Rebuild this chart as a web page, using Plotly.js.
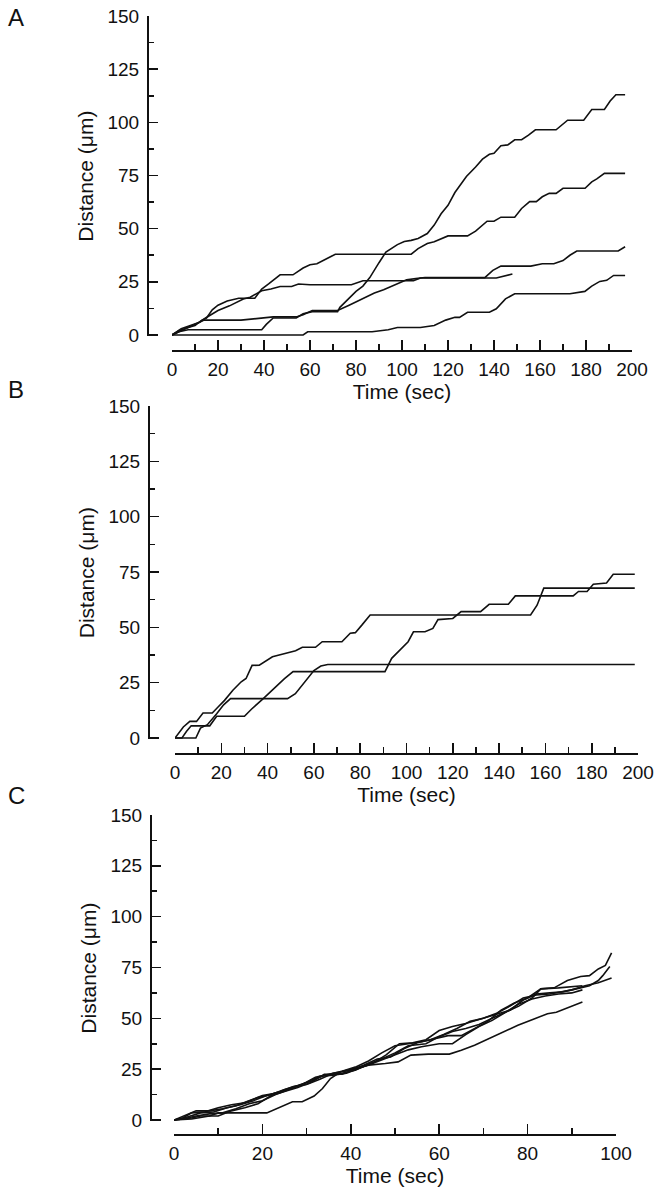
<!DOCTYPE html>
<html>
<head>
<meta charset="utf-8">
<script src="https://cdn.plot.ly/plotly-3.0.1.min.js"></script>
<style>html,body{margin:0;padding:0;background:#fff;}#chart{width:664px;height:1199px;}</style>
</head>
<body>
<div id="chart"></div>
<script>
// ---------- Panel A data (time s, distance µm) ----------
const A1_t = [0,3,7,39,41,44,54,57,61,72,73,77,80,83,86,90,93,98,101,104,107,111,114,117,120,123,128,132,135,138,140,143,146,149,152,155,158,167,172,179,182.5,188,190.5,193,197];
const A1_d = [0,1.5,2.5,2.5,5,8,8,10,11,11,13,17.5,20.5,23,27,34,39,42.5,44,44.5,45.4,47.7,51.7,57,61,67,74.5,79,82.7,85,85.5,89,89.4,91.8,91.8,94,96.5,96.5,101,101,106,106,110,113,113];
const A2_t = [0,3,7,10,13,15,17.5,20,24,29,36,39,42,47,52.6,57,60,63,67,71,104,107,111,114,120,128.5,132,137,140,143,149,152,155.5,158.4,161,164,167,170,179.6,182.5,184.7,188,197];
const A2_d = [0,2,3.5,4.5,7,8,11.8,14,16,17.3,17.3,21.6,24,28.3,28.3,31.5,33,33.5,35.7,38,38,40.6,43,43.8,46.6,46.6,48.8,53.5,53.5,55.4,55.4,59.5,62.7,62.7,65,66.6,66.6,69,69,72,73.4,76,76];
const A3_t = [0,4,8,14,30,40,44,54,57,61,72,77,83,88,92,98,102,106,110,136,139.5,143,156,161,166,170,173,176,194,197];
const A3_d = [0,2,4,7,7,8,8.5,8.5,9.5,11.5,11.5,14,17.3,19.7,21.3,24,26,26.5,27,27,30.4,32.4,32.4,33.5,33.5,35,37.5,39.5,39.5,41.5];
const A4_t = [0,4,8,12,14.6,20,25,31,34,39,43,47,52,55,60,78,83,105,108,141,148];
const A4_d = [0,3,4.5,6,8,11.5,13.7,16.9,17.8,20.8,21.6,22.8,22.8,24,23.6,23.6,25.5,25.5,26.8,26.8,28.7];
const A5_t = [0,57,59,87,94,98,108,114,119,123,125,128.5,138,141,145,149,173,179.5,182.5,186,189,192,197];
const A5_d = [0,0,1.5,1.5,2.5,3.5,3.5,4.5,7,8.3,8.3,10.7,10.7,12.3,17,19.4,19.4,20.5,23,25.2,25.7,28,28];

// ---------- Panel B data ----------
const B1_t = [0,3.6,6.4,9.3,12.1,16.1,18.6,21.4,25,28.6,30.7,33.3,36.4,42.1,45,48.6,52.1,55,60.7,63.6,72.1,75.7,77.9,80.7,84.3,153.6,156.4,159.3,198.6];
const B1_d = [0,5,7.5,7.5,11.3,11.3,14,17,21.6,25.4,26.9,32.8,32.9,36.7,37.5,38.5,39.4,41,41,43.5,43.5,47.3,47.6,51,55.6,55.6,60,67.7,67.7];
const B2_t = [0,3,5,7,15,18,30,33,38,44,47.3,51,90.7,93.6,97,100.7,103,108,111.4,113.6,120,123.6,132,135.7,144,147,172,174.3,178,180.7,186.4,189.3,198.6];
const B2_d = [0,0,3,5.5,5.5,9.8,9.8,13,17.7,23.8,26.8,30,30,36,39.7,43.5,48,48,49.5,53.5,54,57.1,57.1,60.4,60.4,64.2,64.2,66.2,66.2,69.5,70,74,74];
const B3_t = [0,9,11,14,18,21,24,48.6,52,56,60,63,66,198.6];
const B3_d = [0,0,4.5,6,11,15,17.8,17.8,20,25,30.5,32.5,33.2,33.2];

// ---------- Panel C data ----------
const C1_t = [0,2,4,7,10,13,16,19,22,25,28,31,34,38,41,44,47,50,53,57,60,63,66,69,72,75,78,81,83,86,89,92,94,96,97.6,99];
const C1_d = [0,1,3.5,4,6,7.5,8.5,11,12.5,15,17,19,22,23,24.5,27.5,30,33,36.5,37.5,41,43.5,45,47,50,53,56,60,64.5,65,68.6,70.6,71,74.3,76,82.2];
const C2_t = [0,3,5,8,11,14,17,20,24,27,30,33,36,39,42,45,48,51,54,57,60,63,66,70,73,76,79,82,85,88,91,94,96,97,98.6];
const C2_d = [0,2.5,4.5,4.5,5.5,7,9.5,12,13.5,16,18.5,21.5,22,23,25.5,28,32,37.5,38,39.5,44,46,47.5,50,52,54,59,62,62.5,63,64.5,66,68.6,71,75.5];
const C3_t = [0,3,6,9,12,15,18,21,24,27,30,33,36,40,43,46,49,52,55,58,61,64,67,70,73,76,79,82,85,90,93,96,99];
const C3_d = [0,1.5,3.5,4,6,7.5,9.5,12,14,16.5,17.5,20,23,24.5,27,30,31,35,38,39.5,42,45,48.5,50,52.5,56,60,61.5,62,64,66,67.5,69.8];
const C4_t = [0,4,6,10,13,16,19,22,25,28,31,34,38,41,44,47,50,53,56,60,63,66,69,72,75,78,81,84,87,90,92.4];
const C4_d = [0,1,2,2,4.5,6,8,12,14,16,18.5,22.5,22.5,25,27,29.5,32,34.5,36,37.5,37.5,42,46,49,53,57,59.5,61,62,62.5,64];
const C5_t = [0,4,8,10,21,23.4,26.8,29,31.7,33.6,35.4,37.7,44,47.8,50.7,53.6,57.5,62.3,65,68,72,75,77.8,81.6,84.5,86.5,89.4,92.4];
const C5_d = [0,0.5,2,3.5,3.5,5.7,9,9,11.8,15.5,20.4,23.7,27,27.8,28.6,31.9,32.4,32.4,34.3,36.8,40.8,44,46.6,49.8,52.3,53,55.6,58];
const C6_t = [0,2,5,8,11,14,17,20,23,26,29,32,35,38,41,44,47,50,53,56,59,62,65,68,71,74,77,80,83,87,92.4];
const C6_d = [0,0.5,2,3,3.5,5.5,8,9.5,12.5,15,17.5,21,22.5,24,26,29,33,36.5,37.5,38.5,40,41.5,41.5,45,48.5,54,57.5,60,64.5,65,66];

const yTickVals = [0,25,50,75,100,125,150];
const xTickAB = [0,20,40,60,80,100,120,140,160,180,200];
const xTickC = [0,20,40,60,80,100];
const panelLetters = ["A","B","C"];
const xTitle = "Time (sec)";
const yTitle = "Distance (\u03bcm)";

// ---------- layout geometry (pixels) ----------
const W = 664, H = 1199;
const panels = [
  {x0:172, x1:632, xmax:200, yAxisX:147, y0:335, y150:16,  xLineY:350, letterY:18},
  {x0:175, x1:638, xmax:200, yAxisX:148, y0:738, y150:406, xLineY:753, letterY:390},
  {x0:174, x1:616, xmax:100, yAxisX:150, y0:1120,y150:815, xLineY:1134,letterY:795}
];
const YMIN = -0.6;
const FONT = "Liberation Sans, Arial, Helvetica, sans-serif";
const lineStyle = {color:"#111", width:1.6};

function tr(t, d, k){ return {x:t, y:d, mode:"lines", line:lineStyle, xaxis:k===1?"x":"x"+k, yaxis:k===1?"y":"y"+k, showlegend:false, hoverinfo:"skip"}; }
const data = [
  tr(A1_t,A1_d,1), tr(A2_t,A2_d,1), tr(A3_t,A3_d,1), tr(A4_t,A4_d,1), tr(A5_t,A5_d,1),
  tr(B1_t,B1_d,2), tr(B2_t,B2_d,2), tr(B3_t,B3_d,2),
  tr(C1_t,C1_d,3), tr(C2_t,C2_d,3), tr(C3_t,C3_d,3), tr(C4_t,C4_d,3), tr(C5_t,C5_d,3), tr(C6_t,C6_d,3)
];

const layout = {width:W, height:H, margin:{l:0,r:0,t:0,b:0}, paper_bgcolor:"#fff", plot_bgcolor:"rgba(0,0,0,0)",
  font:{family:FONT, color:"#111", size:19}, showlegend:false, annotations:[]};

panels.forEach((p,i)=>{
  const k = i+1, xs = k===1?"":String(k);
  const pxPerUnit = (p.y0 - p.y150)/150;
  const yBottomPx = p.y0 - YMIN*pxPerUnit;
  layout["xaxis"+xs] = {
    domain:[p.x0/W, p.x1/W], range:[0,p.xmax], anchor:"free", position:1-p.xLineY/H,
    showline:true, linecolor:"#111", linewidth:1.6, showgrid:false, zeroline:false,
    ticks:"inside", ticklen:10, tickwidth:1.6, tickcolor:"#111",
    tickvals: p.xmax===200 ? xTickAB : xTickC,
    minor:{dtick:10, ticks:"inside", ticklen:6, tickwidth:1.6, tickcolor:"#111", showgrid:false},
    tickfont:{family:FONT, size:19, color:"#111"}, ticklabelstandoff:2,
    title:{text:xTitle, font:{family:FONT, size:21, color:"#111"}, standoff:0},
    fixedrange:true
  };
  layout["yaxis"+xs] = {
    domain:[1-yBottomPx/H, 1-p.y150/H], range:[YMIN,150], anchor:"free", position:p.yAxisX/W,
    showline:true, linecolor:"#111", linewidth:1.6, showgrid:false, zeroline:false,
    ticks:"inside", ticklen:9, tickwidth:1.6, tickcolor:"#111", tickvals:yTickVals,
    minor:{dtick:12.5, ticks:"inside", ticklen:5, tickwidth:1.6, tickcolor:"#111", showgrid:false},
    tickfont:{family:FONT, size:19, color:"#111"}, ticklabelstandoff:4,
    title:{text:yTitle, font:{family:FONT, size:21, color:"#111"}, standoff:6},
    fixedrange:true
  };
  layout.annotations.push({text:panelLetters[i], xref:"paper", yref:"paper", x:16/W, y:1-p.letterY/H,
    xanchor:"center", yanchor:"middle", showarrow:false, font:{family:FONT, size:24, color:"#111"}});
});

Plotly.newPlot("chart", data, layout, {staticPlot:true, displayModeBar:false});
</script>
</body>
</html>
